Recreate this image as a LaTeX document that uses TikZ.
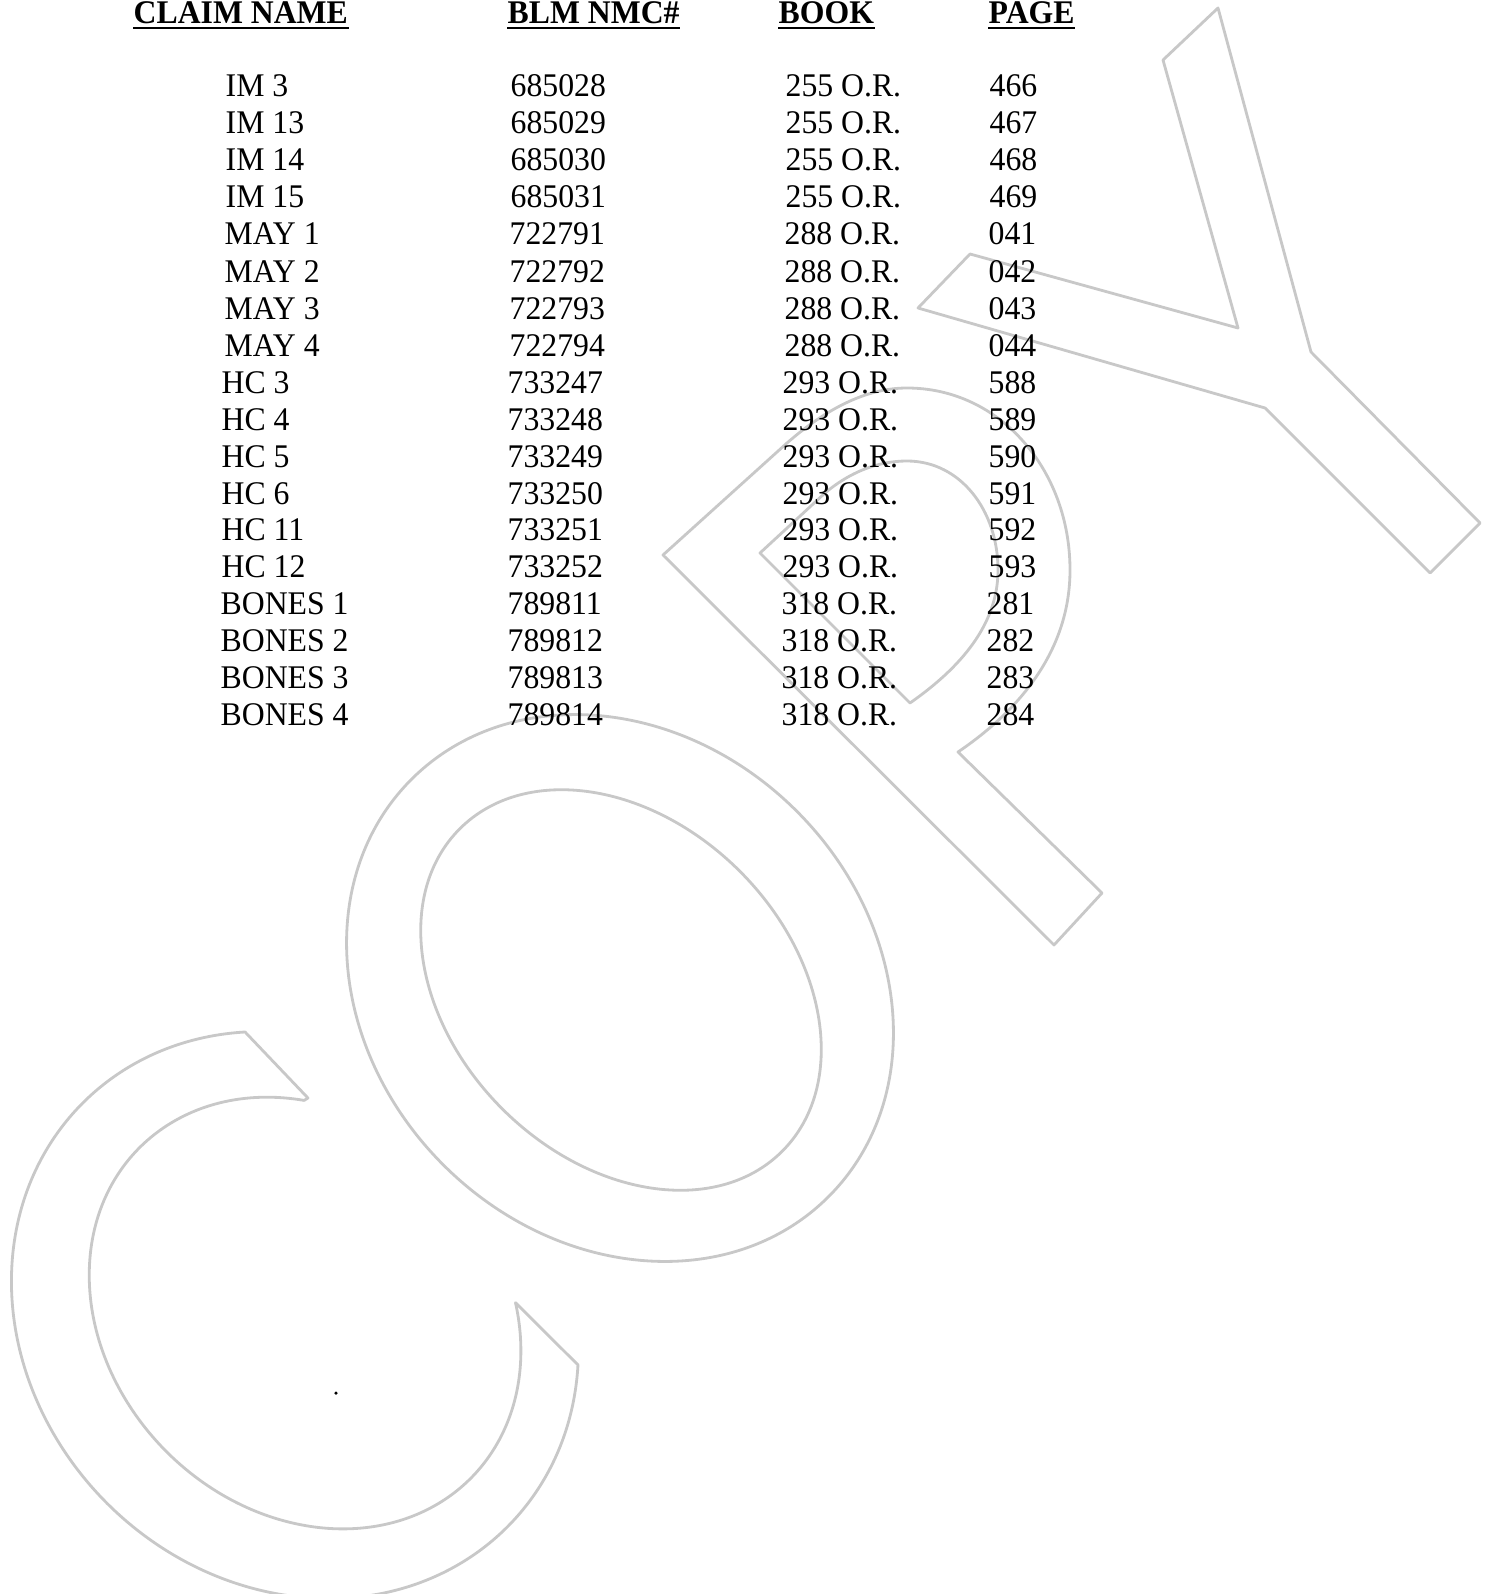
\documentclass[tikz,border=0pt]{standalone}
\usepackage{fontspec}
\setmainfont{Liberation Serif}[FakeStretch=0.96]
\definecolor{stampgray}{RGB}{200,200,200}
\tikzset{
  stamp/.style={draw=stampgray, line width=0.8pt, line join=round},
  cell/.style={anchor=base west, inner sep=0pt, font=\fontsize{9.4pt}{12pt}\selectfont},
  head/.style={cell, font=\fontsize{9.4pt}{12pt}\selectfont\bfseries},
  uline/.style={line width=0.6pt}
}
\begin{document}
\begin{tikzpicture}[x=0.01cm, y=-0.01cm]
        \useasboundingbox (0,0) rectangle (1484,1594);
        \clip (0,0) rectangle (1484,1594);
        \begin{scope}[shift={(295,1315)}, rotate=-45]
          \draw[stamp] (-235.4,-164.8) -- (-144.3,-162.6) -- (-145.3,-158.2) arc[start angle=229.8, end angle=-52.8, x radius=234, y radius=196] -- (235.4,-164.8) arc[start angle=-38.3, end angle=218.3, x radius=300, y radius=266] -- cycle;
        \end{scope}
        \draw[stamp, rotate around={-45:(620,988)}] (620,988) ellipse [x radius=295, y radius=250];
        \draw[stamp, rotate around={-45:(621,990)}] (621,990) ellipse [x radius=228, y radius=168];
        \draw[stamp] (663,555) -- (787,443) .. controls (825,410) and (865,388) .. (907,388) .. controls (1000,388) and (1070,470) .. (1070,570) .. controls (1070,650) and (1020,710) .. (958,752) -- (1102,893) -- (1054,945) -- cycle;
        \draw[stamp] (760,553) -- (825,493) .. controls (850,472) and (878,461) .. (907,461) .. controls (960,461) and (998,510) .. (998,570) .. controls (998,625) and (960,668) .. (910,703) -- cycle;
        \draw[stamp] (1163,60) -- (1218,8) -- (1311,352) -- (1480,523) -- (1430,573) -- (1265,408) -- (918,308) -- (970,254) -- (1238,328) -- cycle;
        \fill (336,1393) circle (0.5pt);
        \node[head] (h1) at (133,24) {CLAIM NAME};
        \node[head] (h2) at (507,24) {BLM NMC\#};
        \node[head] (h3) at (778,24) {BOOK};
        \node[head] (h4) at (988,24) {PAGE};
        \draw[uline] ([yshift=-1.1pt]h1.base west) -- ([yshift=-1.1pt]h1.base east);
        \draw[uline] ([yshift=-1.1pt]h2.base west) -- ([yshift=-1.1pt]h2.base east);
        \draw[uline] ([yshift=-1.1pt]h3.base west) -- ([yshift=-1.1pt]h3.base east);
        \draw[uline] ([yshift=-1.1pt]h4.base west) -- ([yshift=-1.1pt]h4.base east);
        \node[cell] (c1) at (225,97) {IM 3};
        \node[cell] (n1) at (510,97) {685028};
        \node[cell] (b1) at (785,97) {255 O.R.};
        \node[cell] (p1) at (989,97) {466};
        \node[cell] (c2) at (225,134) {IM 13};
        \node[cell] (n2) at (510,134) {685029};
        \node[cell] (b2) at (785,134) {255 O.R.};
        \node[cell] (p2) at (989,134) {467};
        \node[cell] (c3) at (225,171) {IM 14};
        \node[cell] (n3) at (510,171) {685030};
        \node[cell] (b3) at (785,171) {255 O.R.};
        \node[cell] (p3) at (989,171) {468};
        \node[cell] (c4) at (225,208) {IM 15};
        \node[cell] (n4) at (510,208) {685031};
        \node[cell] (b4) at (785,208) {255 O.R.};
        \node[cell] (p4) at (989,208) {469};
        \node[cell] (c5) at (224,245) {MAY 1};
        \node[cell] (n5) at (509,245) {722791};
        \node[cell] (b5) at (784,245) {288 O.R.};
        \node[cell] (p5) at (988,245) {041};
        \node[cell] (c6) at (224,282) {MAY 2};
        \node[cell] (n6) at (509,282) {722792};
        \node[cell] (b6) at (784,282) {288 O.R.};
        \node[cell] (p6) at (988,282) {042};
        \node[cell] (c7) at (224,319) {MAY 3};
        \node[cell] (n7) at (509,319) {722793};
        \node[cell] (b7) at (784,319) {288 O.R.};
        \node[cell] (p7) at (988,319) {043};
        \node[cell] (c8) at (224,356) {MAY 4};
        \node[cell] (n8) at (509,356) {722794};
        \node[cell] (b8) at (784,356) {288 O.R.};
        \node[cell] (p8) at (988,356) {044};
        \node[cell] (c9) at (221,393) {HC 3};
        \node[cell] (n9) at (507,393) {733247};
        \node[cell] (b9) at (782,393) {293 O.R.};
        \node[cell] (p9) at (988,393) {588};
        \node[cell] (c10) at (221,430) {HC 4};
        \node[cell] (n10) at (507,430) {733248};
        \node[cell] (b10) at (782,430) {293 O.R.};
        \node[cell] (p10) at (988,430) {589};
        \node[cell] (c11) at (221,467) {HC 5};
        \node[cell] (n11) at (507,467) {733249};
        \node[cell] (b11) at (782,467) {293 O.R.};
        \node[cell] (p11) at (988,467) {590};
        \node[cell] (c12) at (221,504) {HC 6};
        \node[cell] (n12) at (507,504) {733250};
        \node[cell] (b12) at (782,504) {293 O.R.};
        \node[cell] (p12) at (988,504) {591};
        \node[cell] (c13) at (221,540) {HC 11};
        \node[cell] (n13) at (507,540) {733251};
        \node[cell] (b13) at (782,540) {293 O.R.};
        \node[cell] (p13) at (988,540) {592};
        \node[cell] (c14) at (221,577) {HC 12};
        \node[cell] (n14) at (507,577) {733252};
        \node[cell] (b14) at (782,577) {293 O.R.};
        \node[cell] (p14) at (988,577) {593};
        \node[cell] (c15) at (220,614) {BONES 1};
        \node[cell] (n15) at (507,614) {789811};
        \node[cell] (b15) at (781,614) {318 O.R.};
        \node[cell] (p15) at (986,614) {281};
        \node[cell] (c16) at (220,651) {BONES 2};
        \node[cell] (n16) at (507,651) {789812};
        \node[cell] (b16) at (781,651) {318 O.R.};
        \node[cell] (p16) at (986,651) {282};
        \node[cell] (c17) at (220,688) {BONES 3};
        \node[cell] (n17) at (507,688) {789813};
        \node[cell] (b17) at (781,688) {318 O.R.};
        \node[cell] (p17) at (986,688) {283};
        \node[cell] (c18) at (220,725) {BONES 4};
        \node[cell] (n18) at (507,725) {789814};
        \node[cell] (b18) at (781,725) {318 O.R.};
        \node[cell] (p18) at (986,725) {284};
      \end{tikzpicture}
\end{document}
